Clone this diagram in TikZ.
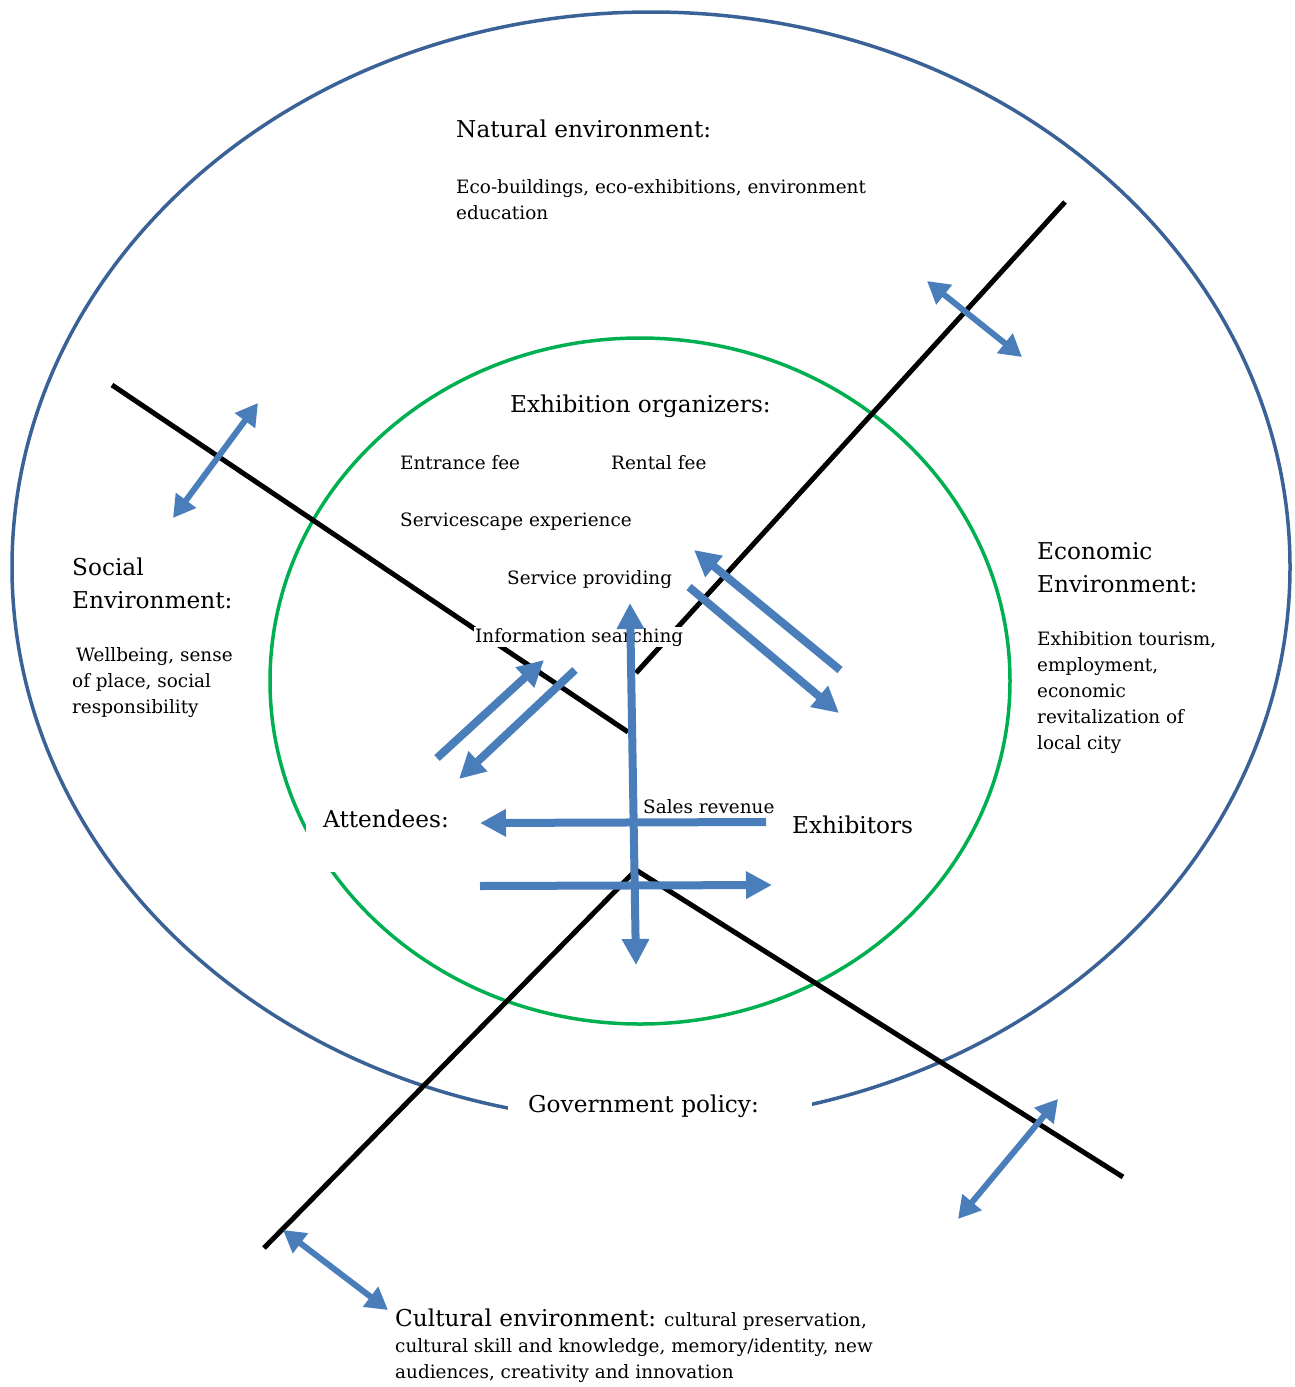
\documentclass[tikz,border=0pt]{standalone}
\usepackage{fontspec}
\setmainfont{DejaVu Serif}
\usetikzlibrary{arrows.meta, positioning}
\definecolor{ringBlue}{RGB}{58,98,150}
\definecolor{ringGreen}{RGB}{0,176,80}
\definecolor{flowBlue}{RGB}{74,126,187}
\newcommand{\headFont}{\fontsize{23.2}{33}\selectfont}
\newcommand{\bodyFont}{\fontsize{18.4}{26}\selectfont}
\tikzset{
    ring/.style={line width=3.5pt},
    axisLine/.style={black, line width=5pt},
    flow/.style={draw=flowBlue, line width=8pt, -{Triangle[length=26pt, width=26pt]}},
    flowBoth/.style={draw=flowBlue, line width=8pt, {Triangle[length=26pt, width=26pt]}-{Triangle[length=26pt, width=26pt]}},
    swap/.style={draw=flowBlue, line width=6pt, {Triangle[length=22pt, width=24pt]}-{Triangle[length=22pt, width=24pt]}},
    head/.style={font=\headFont, anchor=base west, inner sep=0pt, align=left},
    body/.style={font=\bodyFont, anchor=base west, inner sep=0pt, align=left},
    cover/.style={fill=white},
}
\newcommand{\drawFlow}[3][flow]{
    \draw[#1] (#2) -- (#3);
}

\begin{document}
\begin{tikzpicture}[x=1pt, y=-1pt]
    \useasboundingbox (0,0) rectangle (1294,1387);

    % outer and inner rings
    \draw[ring, ringBlue] (651,567) ellipse [x radius=639, y radius=555];
    \draw[ring, ringGreen] (640,681) ellipse [x radius=370, y radius=343];

    % the two crossing axes
    \coordinate (nwEnd) at (112,385);
    \coordinate (nwMid) at (628,732);
    \coordinate (neEnd) at (1065,202);
    \coordinate (neMid) at (636,673);
    \coordinate (apex) at (636,870);
    \coordinate (swEnd) at (264,1248);
    \coordinate (seEnd) at (1123,1177);
    \draw[axisLine] (nwEnd) -- (nwMid);
    \draw[axisLine] (neEnd) -- (neMid);
    \draw[axisLine] (swEnd) -- (apex) -- (seEnd);

    % outer environments (multi-line texts sit on their last line)
    \node[head] (natural) at (456,137) {Natural environment:};
    \node[body] (naturalTxt) at (456,219) {Eco-buildings, eco-exhibitions, environment\\education};
    \node[head] (social) at (72,608) {Social\\Environment:};
    \node[body] (socialTxt) at (72,713) {\hspace{4pt}Wellbeing, sense\\of place, social\\responsibility};
    \node[head] (economic) at (1037,592) {Economic\\Environment:};
    \node[body] (economicTxt) at (1037,749) {Exhibition tourism,\\employment,\\economic\\revitalization of\\local city};
    \node[head, cover, inner xsep=20pt, text width=264pt, text height=24pt, text depth=16pt] (policy) at (508,1112) {Government policy:};
    \node[body] (cultural) at (395,1378) {{\headFont Cultural environment:} cultural preservation,\\cultural skill and knowledge, memory/identity, new\\audiences, creativity and innovation};

    % stakeholders
    \node[head] (organizers) at (510,412) {Exhibition organizers:};
    \node[body] (entrance) at (400,469) {Entrance fee};
    \node[body] (rental) at (611,469) {Rental fee};
    \node[body] (servicescape) at (400,526) {Servicescape experience};
    \node[body] (service) at (507,584) {Service providing};
    \node[body, cover, inner sep=1pt] (info) at (474,642) {Information searching};
    \node[head, cover, inner xsep=17pt, text width=135pt, text height=29pt, text depth=45pt] (attendees) at (306,827) {Attendees:};
    \node[head] (exhibitors) at (792,833) {Exhibitors};
    \node[body] (sales) at (643,813) {Sales revenue};

    % flows between stakeholders
    \coordinate (vTop) at (630,603);
    \coordinate (vBot) at (636,965);
    \coordinate (salesA) at (766,822);
    \coordinate (salesB) at (480,823);
    \coordinate (payA) at (480,886);
    \coordinate (payB) at (772,885);
    \coordinate (infoA) at (437,758);
    \coordinate (infoB) at (544,660);
    \coordinate (infoC) at (575,670);
    \coordinate (infoD) at (459,779);
    \coordinate (servA) at (840,670);
    \coordinate (servB) at (694,550);
    \coordinate (servC) at (689,587);
    \coordinate (servD) at (839,713);
    \drawFlow[flowBoth]{vBot}{vTop}
    \drawFlow{salesA}{salesB}
    \drawFlow{payA}{payB}
    \drawFlow{infoA}{infoB}
    \drawFlow{infoC}{infoD}
    \drawFlow{servA}{servB}
    \drawFlow{servC}{servD}

    % exchange with the environments
    \coordinate (natA) at (927,281);
    \coordinate (natB) at (1022,357);
    \coordinate (socA) at (258,403);
    \coordinate (socB) at (173,518);
    \coordinate (ecoA) at (1058,1099);
    \coordinate (ecoB) at (958,1219);
    \coordinate (culA) at (283,1230);
    \coordinate (culB) at (388,1310);
    \drawFlow[swap]{natA}{natB}
    \drawFlow[swap]{socA}{socB}
    \drawFlow[swap]{ecoA}{ecoB}
    \drawFlow[swap]{culA}{culB}

\end{tikzpicture}
\end{document}
